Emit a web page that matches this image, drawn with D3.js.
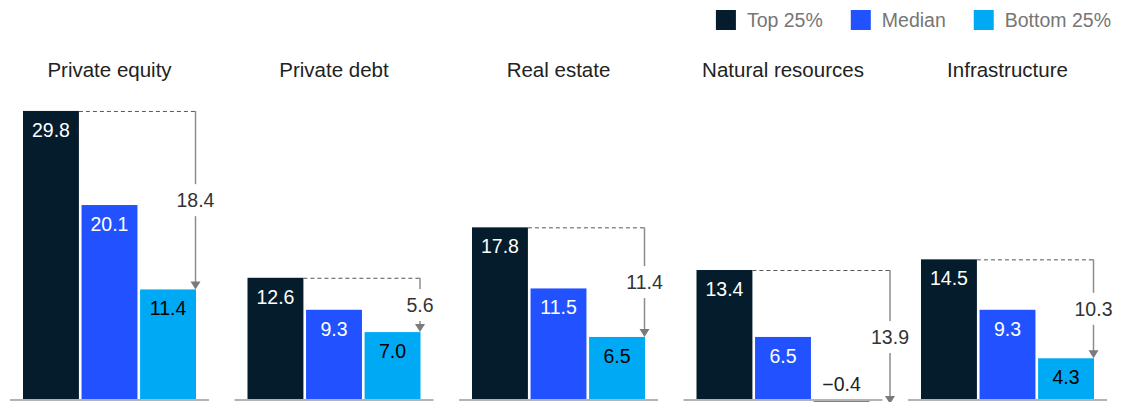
<!DOCTYPE html>
<html>
<head>
<meta charset="utf-8">
<script src="https://cdn.jsdelivr.net/npm/d3@7"></script>
<style>
  html, body { margin: 0; padding: 0; background: #fff; }
  svg { display: block; font-family: "Liberation Sans", Arial, sans-serif; }
</style>
</head>
<body>
<div id="chart"></div>
<script>
const WIDTH = 1122;
const HEIGHT = 402;

const ASSET_CLASSES = ["Private equity", "Private debt", "Real estate", "Natural resources", "Infrastructure"];
const SERIES = ["Top 25%", "Median", "Bottom 25%"];
const TOP = [29.8, 12.6, 17.8, 13.4, 14.5];
const MEDIAN = [20.1, 9.3, 11.5, 6.5, 9.3];
const BOTTOM = [11.4, 7.0, 6.5, -0.4, 4.3];
const SPREAD = [18.4, 5.6, 11.4, 13.9, 10.3];

const color = d3.scaleOrdinal().domain(SERIES).range([
  "#051c2c", // top: deep navy
  "#2251ff", // median: electric blue
  "#00a9f4", // bottom: cyan
]);
const labelColor = d3.scaleOrdinal().domain(SERIES).range(["#fff", "#fff", "#000"]);

const rows = ASSET_CLASSES.map((name, i) => ({
  name,
  values: [TOP[i], MEDIAN[i], BOTTOM[i]].map((v, j) => ({ key: SERIES[j], value: v })),
  spread: SPREAD[i],
}));

const y = d3.scaleLinear().domain([0, 30]).range([400, 109]);

const panelX = d3.scaleBand().domain(ASSET_CLASSES).range([10, 1107]).paddingInner(0.1136);
const barX = d3.scaleBand().domain(SERIES).range([13, 186]).paddingInner(0.045);

const svg = d3.select("#chart").append("svg").attr("width", WIDTH).attr("height", HEIGHT);

// Legend, right aligned
const legend = svg.append("g").attr("class", "legend");
const items = legend.selectAll("g").data(SERIES).join("g");
items.append("rect").attr("width", 20).attr("height", 20).attr("y", 10).attr("fill", (d) => color(d));
items.append("text")
  .attr("x", 31).attr("y", 27)
  .style("font-size", "19.5px").style("fill", "#767676")
  .text((d) => d);
let lx = 1111;
const widths = [];
items.each(function () { widths.push(31 + this.querySelector("text").getComputedTextLength()); });
const offsets = [];
for (let i = SERIES.length - 1; i >= 0; i--) {
  lx -= widths[i];
  offsets[i] = lx;
  lx -= 28;
}
items.attr("transform", (d, i) => `translate(${offsets[i]},0)`);

const panel = svg.selectAll("g.panel").data(rows).join("g")
  .attr("class", "panel")
  .attr("transform", (d) => `translate(${panelX(d.name)},0)`);

panel.append("text")
  .attr("x", panelX.bandwidth() / 2).attr("y", 77)
  .attr("text-anchor", "middle")
  .style("font-size", "20.5px").style("fill", "#222")
  .text((d) => d.name);

panel.selectAll("rect.bar").data((d) => d.values).join("rect")
  .attr("class", "bar")
  .attr("x", (d) => barX(d.key))
  .attr("width", barX.bandwidth())
  .attr("y", (d) => y(Math.max(0, d.value)))
  .attr("height", (d) => Math.abs(y(d.value) - y(0)))
  .attr("fill", (d) => color(d.key));

panel.selectAll("text.val").data((d) => d.values).join("text")
  .attr("class", "val")
  .attr("x", (d) => barX(d.key) + barX.bandwidth() / 2)
  .attr("y", (d) => (d.value < 0 ? y(0) - 9 : y(d.value) + 26))
  .attr("text-anchor", "middle")
  .style("font-size", "19.5px")
  .style("fill", (d) => (d.value < 0 ? "#222" : labelColor(d.key)))
  .text((d) => (d.value < 0 ? "\u2212" + Math.abs(d.value).toFixed(1) : d.value.toFixed(1)));

// baseline
panel.append("line")
  .attr("x1", 0).attr("x2", panelX.bandwidth())
  .attr("y1", y(0)).attr("y2", y(0))
  .attr("stroke", "#b3b3b3").attr("stroke-width", 2);

// spread annotation: dashed top line, vertical arrow to bottom bar
// (pushed right of the bar when the bottom value is negative)
const ax = (d) => barX("Bottom 25%") + barX.bandwidth() - 0.5 + (d.values[2].value < 0 ? 21 : 0);
const topY = (d) => y(d.values[0].value);
const botY = (d) => y(d.values[2].value);
const mid = (d) => (topY(d) + botY(d)) / 2;
const ann = panel.append("g").attr("class", "spread");
ann.append("line")
  .attr("x1", barX("Top 25%") + barX.bandwidth()).attr("x2", ax)
  .attr("y1", (d) => topY(d) + 0.5).attr("y2", (d) => topY(d) + 0.5)
  .attr("stroke", "#555").attr("stroke-width", 1).attr("stroke-dasharray", "4,3");
ann.append("line")
  .attr("x1", ax).attr("x2", ax)
  .attr("y1", topY)
  .attr("y2", (d) => mid(d) - 16)
  .attr("stroke", "#8c8c8c").attr("stroke-width", 1.5);
ann.append("line")
  .attr("x1", ax).attr("x2", ax)
  .attr("y1", (d) => mid(d) + 16)
  .attr("y2", (d) => botY(d) - 7)
  .attr("stroke", "#8c8c8c").attr("stroke-width", 1.5);
ann.append("path")
  .attr("d", (d) => {
    const t = botY(d), x = ax(d);
    return `M${x - 5},${t - 8}L${x + 5},${t - 8}L${x},${t}Z`;
  })
  .attr("fill", "#7a7a7a");
ann.append("text")
  .attr("x", ax).attr("y", (d) => mid(d) + 7)
  .attr("text-anchor", "middle")
  .style("font-size", "19.5px").style("fill", "#333")
  .text((d) => d.spread.toFixed(1));
</script>
</body>
</html>
